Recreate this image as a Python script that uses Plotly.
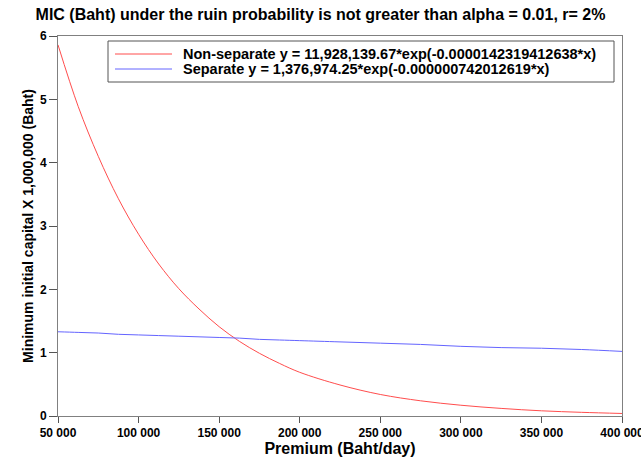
import plotly.graph_objects as go

premium = [50000, 62500, 75000, 87500, 100000, 112500, 125000, 137500, 150000, 162500,
           175000, 187500, 200000, 225000, 250000, 275000, 300000, 325000, 350000, 375000, 400000]
non_separate = [5.86, 4.89, 4.10, 3.43, 2.87, 2.40, 2.01, 1.69, 1.41, 1.18,
                0.99, 0.83, 0.69, 0.49, 0.34, 0.24, 0.17, 0.12, 0.082, 0.058, 0.040]
separate = [1.33, 1.32, 1.31, 1.29, 1.28, 1.27, 1.26, 1.25, 1.24, 1.23,
            1.21, 1.20, 1.19, 1.17, 1.15, 1.13, 1.10, 1.08, 1.07, 1.05, 1.02]

x_ticks = [50000, 100000, 150000, 200000, 250000, 300000, 350000, 400000]
x_labels = ["50 000", "100 000", "150 000", "200 000", "250 000", "300 000", "350 000", "400 000"]
y_ticks = [0, 1, 2, 3, 4, 5, 6]
series_names = ["Non-separate y = 11,928,139.67*exp(-0.0000142319412638*x)",
                "Separate y = 1,376,974.25*exp(-0.000000742012619*x)"]
series_colors = ["#ff4d4d", "#6464ff"]

W, H = 641, 459
L, R, T, B = 58, 19, 36, 43
PW, PH = W - L - R, H - T - B


def px_x(p):
    return (p - L) / PW


def px_y(p):
    return (H - B - p) / PH


fig = go.Figure()
for vals, name, col in zip([non_separate, separate], series_names, series_colors):
    fig.add_trace(go.Scatter(x=premium, y=vals, mode="lines", name=name, showlegend=False,
                             line=dict(color=col, width=1, shape="spline")))

# legend box drawn by hand
shapes = [dict(type="rect", xref="paper", yref="paper", x0=px_x(108), x1=px_x(614), y0=px_y(82), y1=px_y(41),
               line=dict(color="#555555", width=1), fillcolor="white", layer="above")]
annotations = []
for i, (name, col) in enumerate(zip(series_names, series_colors)):
    yy = 54 + 15 * i
    shapes.append(dict(type="line", xref="paper", yref="paper", x0=px_x(115), x1=px_x(172),
                       y0=px_y(yy), y1=px_y(yy), line=dict(color=col, width=1), layer="above"))
    annotations.append(dict(xref="paper", yref="paper", x=px_x(181), y=px_y(yy), xanchor="left", yanchor="middle",
                            text="<b>%s</b>" % name, showarrow=False, font=dict(size=14.5, color="black")))

fig.update_layout(
    width=W, height=H,
    margin=dict(l=L, r=R, t=T, b=B),
    paper_bgcolor="white", plot_bgcolor="white",
    font=dict(family="Liberation Sans, Arial", color="black", size=12),
    title=dict(text="<b>MIC (Baht) under the ruin probability is not greater than alpha = 0.01, r= 2%</b>",
               x=0.5, xanchor="center", y=1 - 14 / H, yanchor="middle", font=dict(size=16)),
    showlegend=False,
    shapes=shapes,
    annotations=annotations,
)
fig.update_xaxes(range=[50000, 400000], tickvals=x_ticks, ticktext=["<b>%s</b>" % t for t in x_labels],
                 showgrid=False, zeroline=False, showline=True, mirror=True, linecolor="#808080", linewidth=1,
                 ticks="outside", ticklen=6, tickcolor="#555555", tickfont=dict(size=12),
                 ticklabeloverflow="allow", automargin=False,
                 title=dict(text="<b>Premium (Baht/day)</b>", font=dict(size=16), standoff=3))
fig.update_yaxes(range=[0, 6], tickvals=y_ticks, ticktext=["<b>%d</b>" % v for v in y_ticks],
                 showgrid=False, zeroline=False, showline=True, mirror=True, linecolor="#808080", linewidth=1,
                 ticks="outside", ticklen=8, tickcolor="#555555", tickfont=dict(size=12),
                 automargin=False,
                 title=dict(text="<b>Minimum initial capital X 1,000,000 (Baht)</b>", font=dict(size=14), standoff=3))

fig.write_html("out.html", config={"displayModeBar": False},
               post_script="document.body.style.margin='0';")
